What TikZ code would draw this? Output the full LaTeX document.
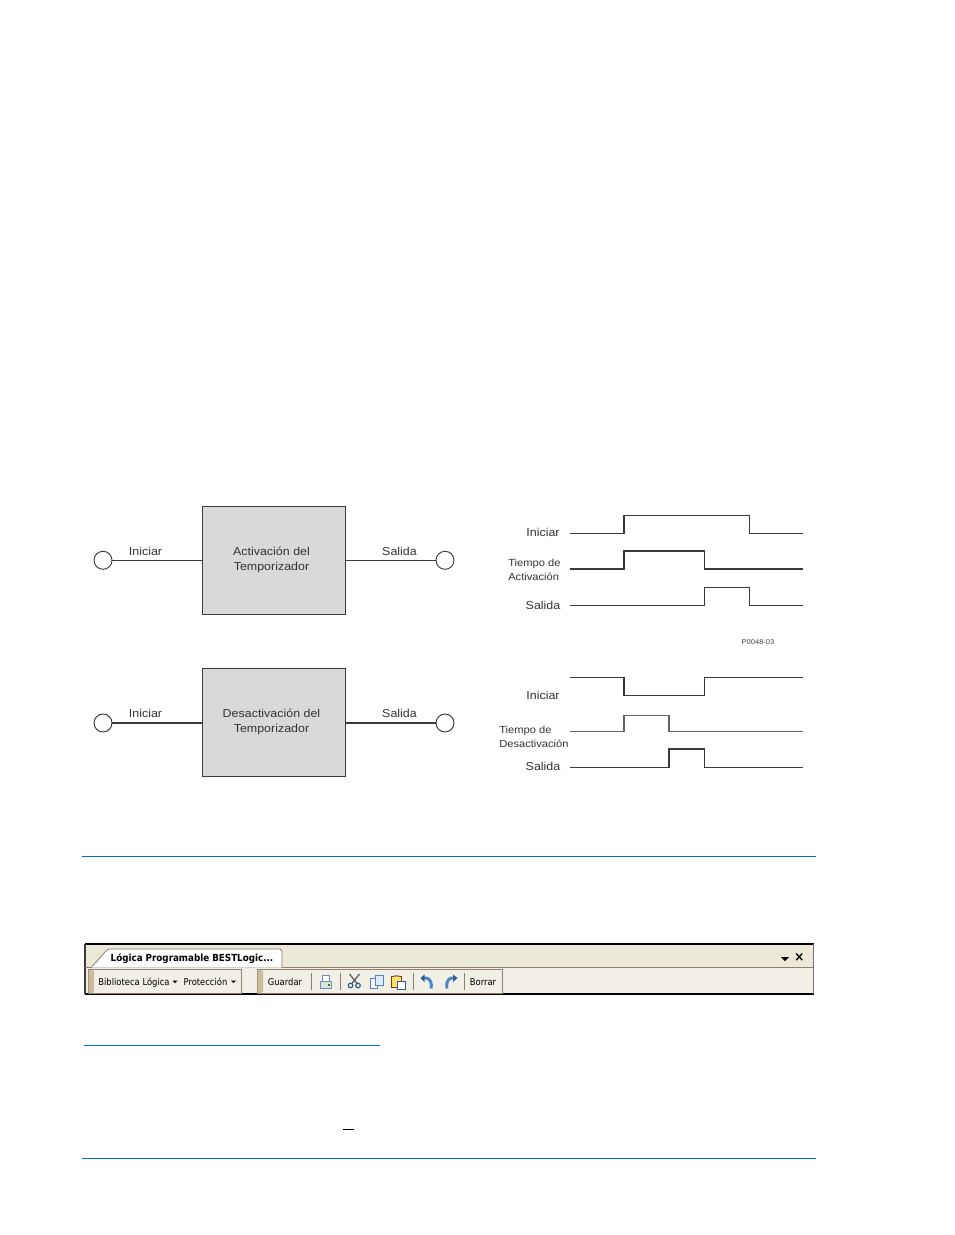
\documentclass[tikz,border=0pt]{standalone}
\usepackage{fontspec}
\setmainfont[FakeStretch=1.085]{Liberation Sans}
\newfontfamily\barfont{DejaVu Sans Condensed}
\usetikzlibrary{positioning}
\definecolor{rulebleu}{HTML}{0072BC}
\definecolor{blockgray}{HTML}{D9D9D9}
\definecolor{linegray}{HTML}{3A3A3A}
\definecolor{barbeige}{HTML}{ECE9D8}
\definecolor{barlight}{HTML}{F1EFE6}
\definecolor{barframe}{HTML}{8C7F6E}
\definecolor{gripgold}{HTML}{CDBB9B}
\definecolor{iconblue}{HTML}{4A86C5}
\definecolor{icondark}{HTML}{2F5F95}
\tikzset{
  blockbox/.style={draw=linegray, fill=blockgray, line width=0.8pt, minimum width=107.8pt, minimum height=81pt, inner sep=0pt},
  blocktext/.style={align=center, font=\fontsize{8.6}{11.2}\selectfont, text=black!80},
  portdot/.style={circle, draw=linegray, fill=white, line width=0.7pt, minimum size=13.5pt, inner sep=0pt},
  wire/.style={draw=linegray, line width=0.8pt},
  portlabel/.style={font=\fontsize{8.6}{10}\selectfont, text=black!80},
  tracelabel/.style={font=\fontsize{8.6}{10}\selectfont, text=black!80},
  smalllabel/.style={font=\fontsize{7.7}{10.6}\selectfont, text=black!80, align=left},
  trace/.style={draw=linegray, line width=0.8pt},
  bluerule/.style={draw=rulebleu, line width=0.75pt},
  barlabel/.style={font=\barfont\fontsize{7}{8}\selectfont, inner sep=0pt, anchor=base},
  pieceframe/.style={draw=barframe, fill=barlight, line width=0.6pt},
  gripbar/.style={fill=gripgold, rounded corners=1pt},
  barsep/.style={draw=barframe, line width=0.5pt},
  undoline/.style={line width=2.2pt, draw=iconblue}
}
\begin{document}
\begin{tikzpicture}[x=0.75pt, y=-0.75pt]
  \useasboundingbox (0,0) rectangle (954,1235);

  % upper timer block
  \node[blockbox] (onblock) at (273.9,560.2) {};
  \node[blocktext] (ontext) at (271.5,559.5) {Activación del\\Temporizador};
  \node[portdot] (onin) at (103,560.3) {};
  \node[portdot] (onout) at (445,560.3) {};
  \draw[wire] (onin) -- (onblock.west |- onin);
  \draw[wire] (onblock.east |- onout) -- (onout);
  \node[portlabel] (oninlabel) at (145.5,551.4) {Iniciar};
  \node[portlabel] (onoutlabel) at (399.5,551.4) {Salida};

  % lower timer block
  \node[blockbox] (offblock) at (273.9,722.7) {};
  \node[blocktext] (offtext) at (271.5,721.5) {Desactivación del\\Temporizador};
  \node[portdot] (offin) at (103,723) {};
  \node[portdot] (offout) at (445,723) {};
  \draw[wire] (offin) -- (offblock.west |- offin);
  \draw[wire] (offblock.east |- offout) -- (offout);
  \node[portlabel] (offinlabel) at (145.5,713.4) {Iniciar};
  \node[portlabel] (offoutlabel) at (399.5,713.4) {Salida};

  % upper traces
  \node[tracelabel] (tiniciar) at (543,532.8) {Iniciar};
  \node[smalllabel, anchor=north west, inner sep=0pt] (tactiv) at (508,559) {Tiempo de\\Activación};
  \node[tracelabel] (tsalida) at (543,605) {Salida};
  \draw[trace] (570,533.7) -| (624,515.4) -| (749.3,533.7) -- (803,533.7);
  \draw[trace] (570,569) -| (624,551) -| (704.3,569) -- (803,569);
  \draw[trace] (570,605.7) -| (704.3,587.4) -| (749.3,605.7) -- (803,605.7);
  \node[font=\fontsize{5.2}{6}\selectfont, text=black!75] (figcode) at (758,642) {P0048-03};

  % lower traces
  \node[tracelabel] (biniciar) at (543,695) {Iniciar};
  \node[smalllabel, anchor=north west, inner sep=0pt] (bdeact) at (499,725.7) {Tiempo de\\Desactivación};
  \node[tracelabel] (bsalida) at (543,766.8) {Salida};
  \draw[trace] (570,677.4) -| (624,695.4) -| (704.3,677.4) -- (803,677.4);
  \draw[trace, draw=black!60] (570,731.2) -| (624,715.4) -| (669,731.2) -- (803,731.2);
  \draw[trace] (570,767.3) -| (669,749) -| (704.3,767.3) -- (803,767.3);

  % page rules
  \coordinate (ruleaL) at (82,856.5);
  \coordinate (ruleaR) at (816,856.5);
  \coordinate (rulebL) at (84,1045.3);
  \coordinate (rulebR) at (380,1045.3);
  \coordinate (rulecL) at (82,1158.5);
  \coordinate (rulecR) at (816,1158.5);
  \draw[bluerule] (ruleaL) -- (ruleaR);
  \draw[bluerule] (rulebL) -- (rulebR);
  \draw[bluerule] (rulecL) -- (rulecR);
  \draw[black, line width=0.75pt] (343,1129.7) -- (354,1129.7);

  % toolbar strip
  \fill[barbeige] (85,945) rectangle (813,967);
  \fill[barlight] (85,967) rectangle (813,994);
  \draw[black, line width=1.6pt] (85,944) -- (814,944);
  \draw[black, line width=0.9pt] (85,994) -- (814,994);
  \draw[linegray, line width=1pt] (85,944) -- (85,994);
  \draw[linegray!70, line width=1pt] (813.5,944) -- (813.5,994);
  \draw[barframe, line width=0.6pt] (85,967.5) -- (813,967.5);

  % tab
  \draw[barframe, fill=white, line width=0.6pt] (91,967.5) -- (106,951) to[out=50,in=180] (110,949) -- (280,949) -- (282,951) -- (282,967.5);
  \node[font=\barfont\bfseries\fontsize{7.3}{8}\selectfont, inner sep=0pt, anchor=base] (tabtext) at (192,961) {Lógica Programable BESTLogic...};
  \fill[black] (781,957) -- (789,957) -- (785,961) -- cycle;
  \node[font=\barfont\bfseries\fontsize{10}{10}\selectfont, inner sep=0pt] (closex) at (799.5,957.5) {×};

  % toolbar pieces
  \draw[pieceframe] (88,969.5) rectangle (241,993.5);
  \fill[gripbar] (88.5,970) rectangle (94,993);
  \draw[pieceframe] (257,969.5) rectangle (502.5,993.5);
  \fill[gripbar] (257.5,970) rectangle (263,993);
  \node[barlabel] (biblio) at (134,985) {Biblioteca Lógica};
  \fill[black] (172.5,980.5) -- (177.5,980.5) -- (175,983) -- cycle;
  \node[barlabel] (protec) at (205.5,985) {Protección};
  \fill[black] (231,980.5) -- (236,980.5) -- (233.5,983) -- cycle;
  \node[barlabel] (guardar) at (285,985) {Guardar};
  \node[barlabel] (borrar) at (483,985) {Borrar};
  \foreach \sepx in {311.5,340.5,413.5,464.5}
    \draw[barsep] (\sepx,973) -- (\sepx,990);

  % printer
  \draw[icondark!70, fill=white, line width=0.5pt] (322.5,975.5) rectangle (329.5,981);
  \draw[icondark!70, fill=black!12, line width=0.5pt] (320.5,981) rectangle (331.5,988);
  \fill[green!60!black] (328,984) rectangle (330,985.5);
  % scissors
  \draw[black!65, line width=0.9pt] (349.5,974) -- (357.5,984) (359.5,974) -- (351.5,984);
  \draw[icondark!90!black, line width=0.8pt] (350.5,985.5) circle[radius=2.3] (358,985.5) circle[radius=2.3];
  % copy
  \draw[iconblue, fill=white, line width=0.7pt] (370.5,978) rectangle (377.5,988);
  \draw[iconblue, fill=iconblue!15, line width=0.7pt] (375.5,975.5) rectangle (383,985);
  % paste
  \draw[black!50!orange, fill=orange!40!yellow!60, line width=0.6pt] (391.5,976) rectangle (401,987.5);
  \fill[black!40] (394,974.5) rectangle (398.5,977);
  \draw[icondark, fill=white, line width=0.5pt] (397,981) rectangle (405.5,989);
  % undo and redo
  \draw[undoline] (431,988.5) to[out=75,in=0] (426,978) -- (423,978);
  \fill[icondark] (424.5,974.5) -- (424.5,982) -- (420.5,978) -- cycle;
  \draw[undoline] (447,988.5) to[out=105,in=180] (452,978) -- (454,978);
  \fill[icondark] (453,974.5) -- (453,982) -- (457.5,978) -- cycle;
\end{tikzpicture}
\end{document}
